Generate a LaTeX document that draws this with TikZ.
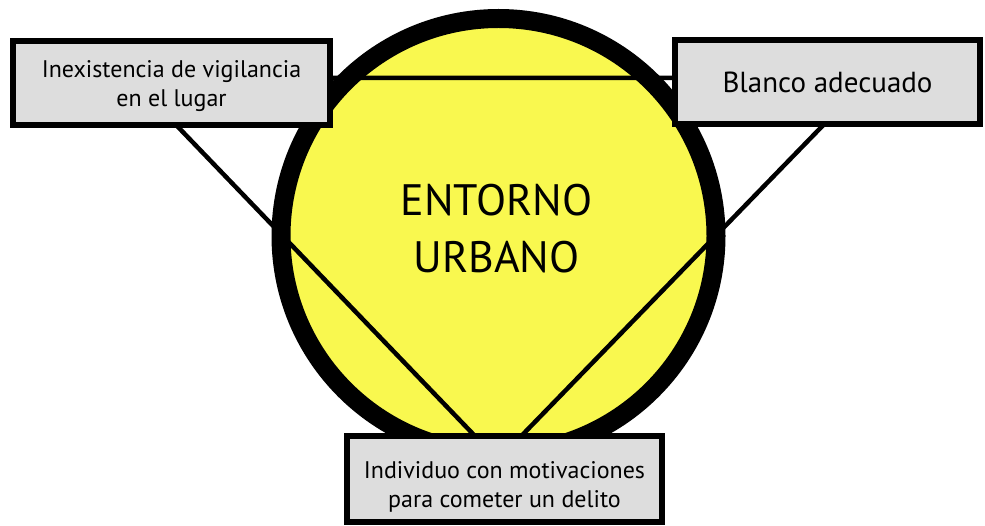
\documentclass[tikz,border=0pt]{standalone}
\usepackage{fontspec}
\setmainfont{PT Sans}
\usetikzlibrary{positioning}
\definecolor{Entornocol}{HTML}{F9F84F}
\definecolor{Boxcol}{HTML}{DDDDDD}
\tikzset{
  basic box/.style = {
    shape = rectangle,
    draw,
    line width = 6pt,
    fill = Boxcol,
    align = center,
    inner sep = 0pt,
    text depth = 0pt,
    font = \fontsize{24}{29}\selectfont,
    },
  entorno/.style = {
    shape = circle,
    draw,
    line width = 19pt,
    fill = Entornocol,
    minimum size = 435pt,
    inner sep = 0pt,
    },
  titulo/.style = {
    align = center,
    inner sep = 0pt,
    font = \fontsize{44}{57}\selectfont,
    },
  tri/.style = {line width = 4.5pt, line join = miter},
}
\begin{document}
\begin{tikzpicture}[x=1pt,y=-1pt]
    \useasboundingbox (0,0) rectangle (985,526);

    % urban setting
    \node [entorno] (urbano) at (498.5,236) {};
    \node [titulo] (titulo) at ([xshift=-2pt,yshift=7pt]urbano.center) {ENTORNO\\URBANO};

    % crime triangle
    \coordinate (vleft) at (131,78);
    \coordinate (vright) at (869,78);
    \coordinate (vbottom) at (498,460);
    \draw [tri] (vleft) -- (vright) -- (vbottom) -- cycle;

    % the three elements
    \node [basic box, minimum width=317pt, minimum height=84pt,
           text height=48pt] (vigil) at (171.5,83)
        {Inexistencia de vigilancia\\en el lugar};
    \node [basic box, minimum width=305pt, minimum height=84pt,
           text height=22pt, font=\fontsize{29}{34}\selectfont] (blanco) at (827.5,82)
        {Blanco adecuado};
    \node [basic box, minimum width=315pt, minimum height=86pt,
           text height=56pt] (indiv) at (504.5,479)
        {Individuo con motivaciones\\para cometer un delito};

\end{tikzpicture}
\end{document}
